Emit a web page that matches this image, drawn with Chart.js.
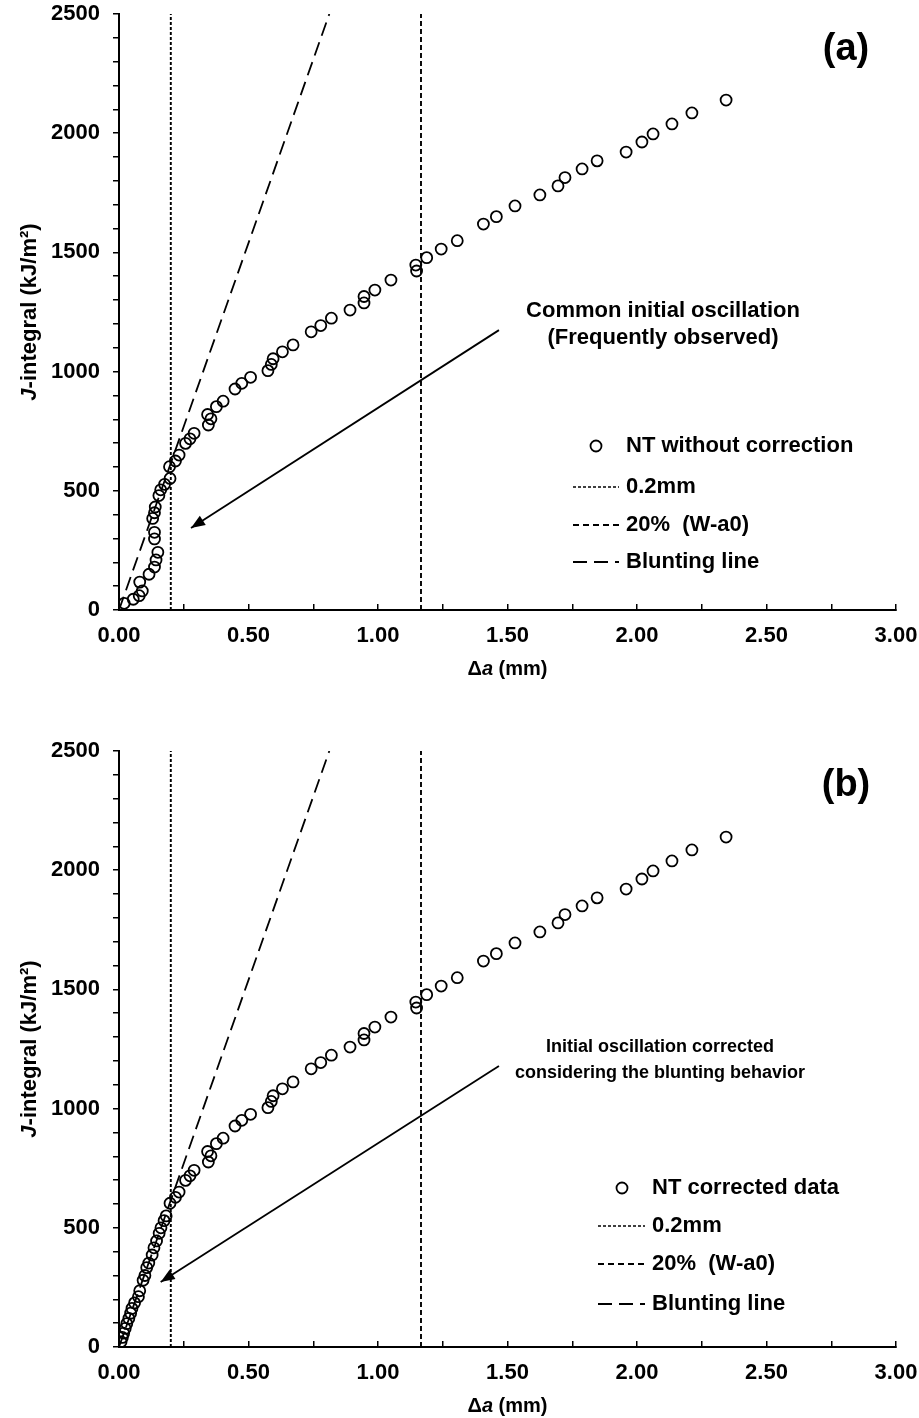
<!DOCTYPE html>
<html><head><meta charset="utf-8">
<script src="https://cdn.jsdelivr.net/npm/chart.js@4.4.1/dist/chart.umd.min.js"></script>
<style>
html,body{margin:0;padding:0;background:#fff;overflow:hidden;width:919px;height:1418px;}
canvas{position:absolute;left:0;}
#ca{top:0;} #cb{top:737px;}
</style></head><body>
<canvas id="ca" width="919" height="690"></canvas>
<canvas id="cb" width="919" height="681"></canvas>
<script>
// ---- data (Δa in mm, J in kJ/m²) ----
const sharedDeltaA = [0.345,0.355,0.342,0.376,0.402,0.448,0.474,0.508,0.575,0.588,0.595,0.631,0.672,0.742,0.779,0.820,0.892,0.946,0.946,0.988,1.050,1.146,1.149,1.188,1.244,1.306,1.407,1.457,1.529,1.625,1.695,1.722,1.788,1.846,1.958,2.019,2.062,2.135,2.212,2.344];
const sharedJ = [776,802,820,853,876,927,951,976,1004,1030,1054,1083,1112,1167,1193,1224,1258,1288,1315,1342,1384,1447,1422,1478,1514,1549,1619,1650,1695,1741,1779,1814,1850,1884,1921,1963,1997,2039,2085,2139];
const aLowDeltaA = [0.020,0.055,0.078,0.090,0.080,0.116,0.137,0.143,0.150,0.137,0.137,0.130,0.137,0.140,0.154,0.161,0.176,0.197,0.195,0.218,0.232,0.257,0.274,0.290];
const aLowJ = [28,45,60,80,117,150,180,210,242,298,326,384,408,432,480,504,527,552,601,625,650,699,718,741];
const bLowDeltaA = [0.008,0.013,0.018,0.024,0.030,0.038,0.045,0.050,0.060,0.075,0.080,0.093,0.100,0.107,0.115,0.128,0.135,0.145,0.155,0.162,0.174,0.182,0.197,0.218,0.232,0.257,0.274,0.290];
const bLowJ = [22,40,58,78,98,120,142,162,185,211,236,280,300,333,352,386,416,445,477,500,530,550,603,628,650,699,718,741];
const offsetLineX = [0.2, 0.2];
const limitLineX = [1.166, 1.166];
const verticalLineJ = [0, 2500];
const bluntingDeltaA = [0, 0.812];
const bluntingJ = [0, 2500];
const arrowADeltaA = [1.467, 0.278];
const arrowAJ = [1174, 344];
const arrowBDeltaA = [1.467, 0.161];
const arrowBJ = [1179, 273];
const xRange = [0, 3];
const yRange = [0, 2500];

const FAM = '"Liberation Sans", Arial, sans-serif';
const pts = (xs, ys) => xs.map((x, i) => ({x: x, y: ys[i]}));

function fontStr(italic, size){ return (italic ? 'italic ' : '') + 'bold ' + size + 'px ' + FAM; }
function drawRich(ctx, parts, x, y, size, align){
  const w = parts.map(p => { ctx.font = fontStr(p[1], size); return ctx.measureText(p[0]).width; });
  const total = w.reduce((a, b) => a + b, 0);
  let sx = align === 'center' ? x - total / 2 : x;
  ctx.textAlign = 'left'; ctx.textBaseline = 'middle';
  parts.forEach((p, i) => { ctx.font = fontStr(p[1], size); ctx.fillText(p[0], sx, y); sx += w[i]; });
}

const decor = {
  id: 'decor',
  afterDatasetsDraw(chart, args, o){
    const ctx = chart.ctx, ca = chart.chartArea;
    ctx.save();
    ctx.fillStyle = '#000'; ctx.strokeStyle = '#000';
    // arrow head
    const meta = chart.getDatasetMeta(4);
    const p0 = meta.data[0], p1 = meta.data[1];
    const ang = Math.atan2(p1.y - p0.y, p1.x - p0.x);
    const L = 14, W = 5.5;
    ctx.beginPath();
    ctx.moveTo(p1.x, p1.y);
    ctx.lineTo(p1.x - L*Math.cos(ang) + W*Math.sin(ang), p1.y - L*Math.sin(ang) - W*Math.cos(ang));
    ctx.lineTo(p1.x - L*Math.cos(ang) - W*Math.sin(ang), p1.y - L*Math.sin(ang) + W*Math.cos(ang));
    ctx.closePath(); ctx.fill();
    // axis titles
    drawRich(ctx, [['Δ', false], ['a', true], [' (mm)', false]], (ca.left + ca.right)/2, ca.bottom + 59, 20, 'center');
    ctx.save();
    ctx.translate(30, (ca.top + ca.bottom)/2);
    ctx.rotate(-Math.PI/2);
    drawRich(ctx, [['J', true], ['-integral (kJ/m²)', false]], 0, 0, 22, 'center');
    ctx.restore();
    // panel label
    drawRich(ctx, [[o.panel, false]], o.panelX, o.panelY, 38, 'center');
    // notes
    o.notes.forEach(n => drawRich(ctx, [[n[0], false]], n[1], n[2], o.noteSize, 'center'));
    // legend
    const lg = o.legend;
    ctx.lineWidth = 1.8;
    ctx.beginPath(); ctx.arc(lg.markerX, lg.rows[0], 5.5, 0, Math.PI*2); ctx.stroke();
    const dashes = [[3,2],[6,4],[14,7]];
    for (let i = 1; i < 4; i++){
      ctx.setLineDash(dashes[i-1]); ctx.lineWidth = i === 1 ? 1.6 : 1.8;
      ctx.beginPath(); ctx.moveTo(lg.lineX0, lg.rows[i]); ctx.lineTo(lg.lineX1, lg.rows[i]); ctx.stroke();
    }
    ctx.setLineDash([]);
    lg.labels.forEach((t, i) => drawRich(ctx, [[t, false]], lg.textX, lg.rows[i], 22, 'left'));
    ctx.restore();
  }
};

function makeChart(id, lowX, lowY, arrX, arrY, xHeight, opts){
  const tickFont = {family: FAM, size: 22, weight: 'bold'};
  return new Chart(document.getElementById(id), {
    type: 'scatter',
    data: { datasets: [
      { data: pts(lowX.concat(sharedDeltaA), lowY.concat(sharedJ)), pointStyle: 'circle', pointRadius: 5.5, pointBorderWidth: 1.8, borderColor: '#000', backgroundColor: 'rgba(0,0,0,0)', showLine: false },
      { data: pts(offsetLineX, verticalLineJ), showLine: true, pointRadius: 0, borderColor: '#000', borderWidth: 1.9, borderDash: [3,2] },
      { data: pts(limitLineX, verticalLineJ), showLine: true, pointRadius: 0, borderColor: '#000', borderWidth: 1.9, borderDash: [5,3] },
      { data: pts(bluntingDeltaA, bluntingJ), showLine: true, pointRadius: 0, borderColor: '#000', borderWidth: 1.8, borderDash: [14,7] },
      { data: pts(arrX, arrY), showLine: true, pointRadius: 0, borderColor: '#000', borderWidth: 1.8 }
    ]},
    options: {
      responsive: false, animation: false, events: [],
      layout: { padding: { left: 0, right: 23, top: 14, bottom: 0 } },
      plugins: { legend: { display: false }, tooltip: { enabled: false }, decor: opts },
      scales: {
        x: { type: 'linear', min: xRange[0], max: xRange[1],
          afterFit: s => { s.height = xHeight; s.paddingLeft = 0; s.paddingRight = 0; s.paddingTop = 0; s.paddingBottom = 0; },
          grid: { drawOnChartArea: false, drawTicks: true, tickLength: -6, color: '#000', lineWidth: 1.5 },
          border: { display: true, color: '#000', width: 2 },
          ticks: { stepSize: 0.25, autoSkip: false, maxRotation: 0, padding: 19, color: '#000', font: tickFont,
            callback: v => Math.abs(v*2 - Math.round(v*2)) < 1e-6 ? v.toFixed(2) : '' } },
        y: { type: 'linear', min: yRange[0], max: yRange[1],
          afterFit: s => { s.width = 119; s.paddingLeft = 0; s.paddingRight = 0; s.paddingTop = 0; s.paddingBottom = 0; },
          grid: { drawOnChartArea: false, drawTicks: true, tickLength: 6, color: '#000', lineWidth: 1.5 },
          border: { display: true, color: '#000', width: 2 },
          ticks: { stepSize: 100, autoSkip: false, padding: 13, color: '#000', font: tickFont,
            callback: v => v % 500 === 0 ? String(v) : '' } }
      }
    },
    plugins: [decor]
  });
}

makeChart('ca', aLowDeltaA, aLowJ, arrowADeltaA, arrowAJ, 80, {
  panel: '(a)', panelX: 846, panelY: 50, noteSize: 22,
  notes: [['Common initial oscillation', 663, 311], ['(Frequently observed)', 663, 338]],
  legend: { markerX: 596, lineX0: 573, lineX1: 619, textX: 626, rows: [446, 487, 525, 562],
    labels: ['NT without correction', '0.2mm', '20%  (W-a0)', 'Blunting line'] }
});
makeChart('cb', bLowDeltaA, bLowJ, arrowBDeltaA, arrowBJ, 71, {
  panel: '(b)', panelX: 846, panelY: 49, noteSize: 18,
  notes: [['Initial oscillation corrected', 660, 310], ['considering the blunting behavior', 660, 336]],
  legend: { markerX: 622, lineX0: 598, lineX1: 645, textX: 652, rows: [451, 489, 527, 567],
    labels: ['NT corrected data', '0.2mm', '20%  (W-a0)', 'Blunting line'] }
});
</script>
</body></html>
